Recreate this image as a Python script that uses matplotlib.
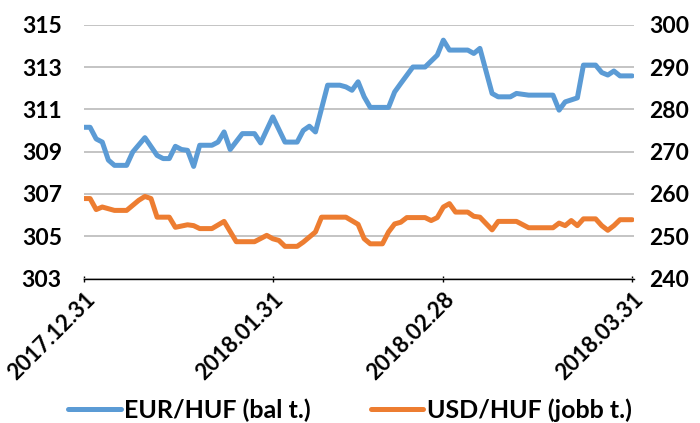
import matplotlib
matplotlib.use("Agg")
import matplotlib.pyplot as plt
import numpy as np
import pandas as pd

# days after 2017-12-31 and the rates
eur_days = [0, 1, 2, 3, 4, 5, 7, 8, 10, 12, 13, 14, 15, 16, 17, 18, 19, 21, 22, 23,
            24, 26, 28, 29, 31, 33, 35, 36, 37, 38, 40, 42, 43, 44, 45, 46, 47, 50,
            51, 52, 54, 56, 58, 59, 60, 63, 64, 65, 67, 68, 70, 71, 73, 77, 78, 79,
            81, 82, 84, 85, 86, 87, 88, 90]
eur_huf = [310.15, 310.15, 309.6, 309.45, 308.6, 308.35, 308.35, 308.98, 309.66,
           308.82, 308.67, 308.67, 309.25, 309.1, 309.06, 308.3, 309.3, 309.3,
           309.45, 309.93, 309.1, 309.85, 309.85, 309.41, 310.64, 309.45, 309.45,
           310.0, 310.2, 309.93, 312.14, 312.14, 312.06, 311.9, 312.3, 311.59,
           311.09, 311.09, 311.82, 312.22, 313.0, 313.0, 313.56, 314.27, 313.8,
           313.8, 313.64, 313.88, 311.75, 311.59, 311.59, 311.75, 311.67, 311.67,
           310.96, 311.35, 311.54, 313.09, 313.09, 312.74, 312.62, 312.81, 312.58,
           312.58]

usd_days = [0, 1, 2, 3, 5, 7, 9, 10, 11, 12, 14, 15, 17, 18, 19, 21, 23, 25, 28, 30,
            31, 32, 33, 35, 36, 38, 39, 43, 45, 46, 47, 49, 50, 51, 52, 53, 56, 57,
            58, 59, 60, 61, 63, 64, 65, 67, 68, 71, 73, 77, 78, 79, 80, 81, 82, 84,
            85, 86, 87, 88, 90]
usd_huf = [258.9, 258.9, 256.3, 256.9, 256.1, 256.1, 258.5, 259.4, 258.9, 254.5,
           254.5, 252.1, 252.7, 252.5, 251.8, 251.8, 253.5, 248.7, 248.7, 250.2,
           249.4, 249.0, 247.6, 247.6, 248.6, 251.0, 254.5, 254.5, 252.8, 249.4,
           248.2, 248.2, 251.0, 252.9, 253.3, 254.4, 254.4, 253.7, 254.4, 256.9,
           257.7, 255.7, 255.7, 254.7, 254.5, 251.5, 253.5, 253.5, 252.0, 252.0,
           253.1, 252.5, 253.7, 252.5, 254.1, 254.1, 252.5, 251.4, 252.5, 253.9,
           253.9]

tick_dates = ["2017-12-31", "2018-01-31", "2018-02-28", "2018-03-31"]
tick_labels = ["2017.12.31", "2018.01.31", "2018.02.28", "2018.03.31"]

start = pd.Timestamp("2017-12-31")
eur_x = [start + pd.Timedelta(days=d) for d in eur_days]
usd_x = [start + pd.Timedelta(days=d) for d in usd_days]

plt.rcParams["font.family"] = ["Lato", "DejaVu Sans"]

blue = "#5B9BD5"
orange = "#ED7D31"
fs = 16.5

fig = plt.figure(figsize=(7, 4.23), dpi=100)
ax = fig.add_axes([0.12, 0.3416, 0.786, 0.6])
ax2 = ax.twinx()

l1, = ax.plot(eur_x, eur_huf, color=blue, lw=3.6, solid_joinstyle="round",
              solid_capstyle="round", label="EUR/HUF (bal t.)")
l2, = ax2.plot(usd_x, usd_huf, color=orange, lw=3.6, solid_joinstyle="round",
               solid_capstyle="round", label="USD/HUF (jobb t.)")

ax.set_ylim(303, 315)
ax.set_yticks(np.arange(303, 316, 2))
ax2.set_ylim(240, 300)
ax2.set_yticks(np.arange(240, 301, 10))
ax.set_xlim(start, pd.Timestamp("2018-03-31") + pd.Timedelta(hours=8))

ax.yaxis.grid(True, color="#BFBFBF", lw=1.3)
ax.set_axisbelow(True)

for a in (ax, ax2):
    for s in ("top", "left", "right"):
        a.spines[s].set_visible(False)
ax2.spines["bottom"].set_visible(False)
ax.spines["bottom"].set_color("#000000")
ax.spines["bottom"].set_linewidth(1.0)

ax.set_xticks([pd.Timestamp(d) for d in tick_dates])
ax.set_xticklabels(tick_labels, rotation=45, ha="right", rotation_mode="anchor")
ax.tick_params(axis="x", length=5, width=1, direction="inout", labelsize=16, pad=5)
ax.tick_params(axis="y", length=0, labelsize=fs, pad=16)
ax2.tick_params(axis="y", length=0, labelsize=fs, pad=11)

for lab in ax.get_xticklabels() + ax.get_yticklabels() + ax2.get_yticklabels():
    lab.set_fontweight("bold")

leg = fig.legend(handles=[l1, l2], loc="lower center", bbox_to_anchor=(0.5, -0.05),
                 ncol=2, frameon=False, prop={"size": 18, "weight": "bold"},
                 handlelength=2.1, columnspacing=2.4, handletextpad=0.15)

fig.savefig("out.png", dpi=100)
